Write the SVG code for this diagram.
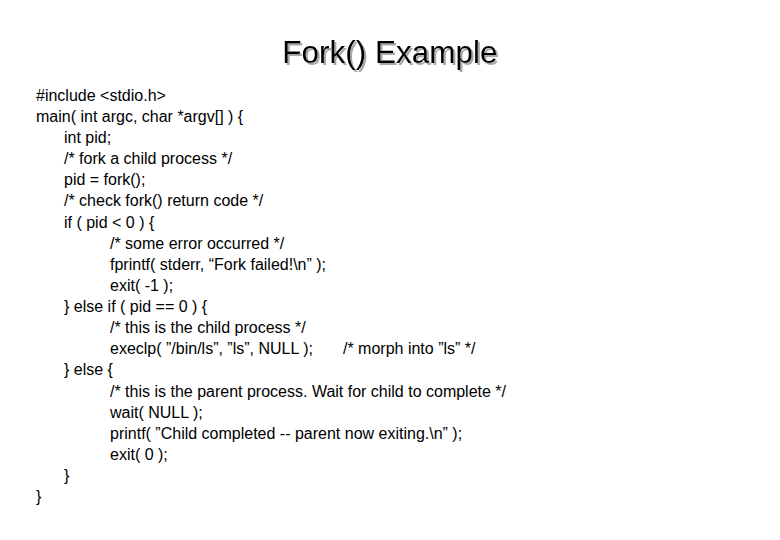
<svg xmlns="http://www.w3.org/2000/svg" width="780" height="540" viewBox="0 0 780 540">
<defs>
<filter id="sh" x="-10%" y="-20%" width="120%" height="150%"><feDropShadow dx="2" dy="2" stdDeviation="0.5" flood-color="#a8a8a8"/></filter>
</defs>
<style>
.t{font-family:"Liberation Sans",Arial,sans-serif;font-size:16px;fill:#000;white-space:pre}
.h{font-family:"Liberation Sans",Arial,sans-serif;font-size:31.5px;fill:#000}
</style>
<rect width="780" height="540" fill="#fff"/>
<g id="title">
<text class="h" x="390" y="63" text-anchor="middle" filter="url(#sh)">Fork() Example</text>
</g>
<g id="code">
<text class="t" x="36" y="101">#include &lt;stdio.h&gt;</text>
<text class="t" x="36" y="122">main( int argc, char *argv[] ) {</text>
<text class="t" x="64" y="143">int pid;</text>
<text class="t" x="64" y="164">/* fork a child process */</text>
<text class="t" x="64" y="185">pid = fork();</text>
<text class="t" x="64" y="206">/* check fork() return code */</text>
<text class="t" x="64" y="228">if ( pid &lt; 0 ) {</text>
<text class="t" x="110" y="249">/* some error occurred */</text>
<text class="t" x="110" y="270">fprintf( stderr, “Fork failed!\n” );</text>
<text class="t" x="110" y="291">exit( -1 );</text>
<text class="t" x="64" y="312">} else if ( pid == 0 ) {</text>
<text class="t" x="110" y="333">/* this is the child process */</text>
<text class="t" x="110" y="354">execlp( ”/bin/ls”, ”ls”, NULL );</text>
<text class="t" x="343" y="354">/* morph into ”ls” */</text>
<text class="t" x="64" y="375">} else {</text>
<text class="t" x="110" y="397">/* this is the parent process. Wait for child to complete */</text>
<text class="t" x="110" y="418">wait( NULL );</text>
<text class="t" x="110" y="439">printf( ”Child completed -- parent now exiting.\n” );</text>
<text class="t" x="110" y="460">exit( 0 );</text>
<text class="t" x="64" y="481">}</text>
<text class="t" x="36" y="502">}</text>
</g>
</svg>
